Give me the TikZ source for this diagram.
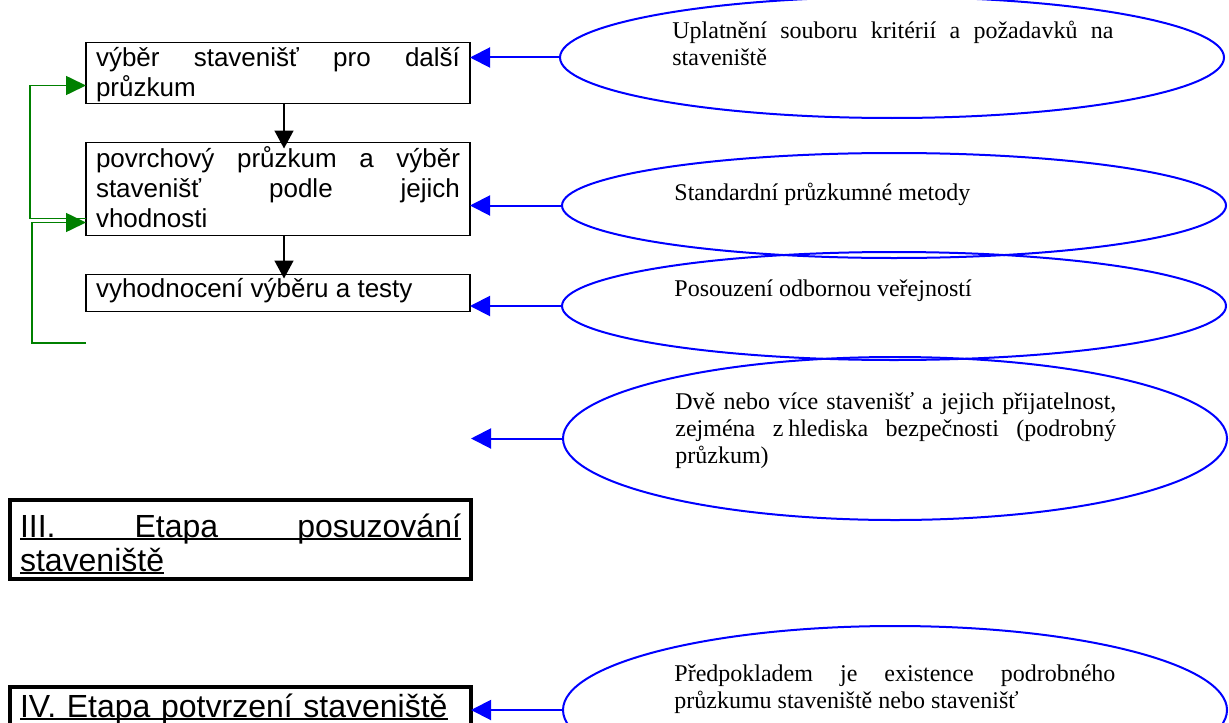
\documentclass[tikz,border=0pt]{standalone}
\usepackage{fontspec}
\setmainfont{Liberation Serif}
\newfontfamily\arialfont{Liberation Sans}
\usetikzlibrary{arrows.meta,shapes.geometric}
\hyphenpenalty=10000
\exhyphenpenalty=10000
\tolerance=10000
\definecolor{wordgreen}{RGB}{0,128,0}
\newlength\ulwd
\newcommand{\ulword}[1]{\leavevmode\settowidth{\ulwd}{#1}\rlap{\rule[-1.7pt]{\ulwd}{1.1pt}}#1}
\newcommand{\ulfull}[1]{\leavevmode\rlap{\rule[-1.7pt]{\linewidth}{1.1pt}}\hbox to \linewidth{#1}}
\tikzset{
  stepbox/.style={draw,line width=0.8pt,anchor=north west,outer sep=0pt,inner xsep=5pt,inner ysep=0pt,
    text width=182pt,align=justify,font=\arialfont\fontsize{13}{15}\selectfont},
  etapa/.style={draw,line width=2.25pt,anchor=north west,outer sep=0pt,inner xsep=5pt,inner ysep=0pt,
    text width=220.5pt,align=left,font=\arialfont\fontsize{16}{17}\selectfont},
  oval/.style={draw=blue,line width=1pt,ellipse,inner sep=0pt,outer sep=0pt,minimum width=332pt},
  ovaltext/.style={anchor=base west,inner sep=0pt,text width=220.5pt,align=justify,
    font=\fontsize{12}{13.5}\selectfont},
  downarrow/.style={line width=0.8pt,-{Triangle[length=9pt,width=9.5pt]}},
  bluearrow/.style={blue,line width=1pt,-{Triangle[length=10pt,width=10pt]}},
  greenarrow/.style={wordgreen,line width=0.8pt,-{Triangle[length=10pt,width=9.5pt]}},
}

\begin{document}
\begin{tikzpicture}[x=0.5pt,y=-0.5pt]
          \useasboundingbox (0,0) rectangle (1229,722);
          \clip (0,0) rectangle (1229,722);
          \node [stepbox,text height=12.25pt,text depth=18.25pt] (n1) at (86,42.5) {výběr stavenišť pro další\linebreak průzkum};
          \node [stepbox,text height=12.25pt,text depth=34.25pt] (n2) at (86,142.5) {povrchový průzkum a výběr\linebreak stavenišť podle jejich\linebreak vhodnosti};
          \node [stepbox,text height=11.25pt,text depth=7.25pt] (n3) at (86,274.5) {vyhodnocení výběru a testy};
          \node [etapa,text height=18.5pt,text depth=21pt] (s3) at (10,500) {\ulfull{III.\hfill Etapa\hfill posuzování}\par\ulword{staveniště}};
          \node [etapa,text height=15pt,text depth=15pt] (s4) at (10,687) {\ulword{IV. Etapa potvrzení staveniště}};
          \node [oval,minimum height=60.5pt] (e1) at (892,57.5) {};
          \node [oval,minimum height=52.5pt] (e2) at (894,205.5) {};
          \node [oval,minimum height=54pt] (e3) at (894,306) {};
          \node [oval,minimum height=81.5pt] (e4) at (895,438.5) {};
          \node [oval,minimum height=84pt] (e5) at (895,710) {};
          \node [ovaltext] (t1) at (672,39) {Uplatnění souboru kritérií a požadavků na\linebreak staveniště};
          \node [ovaltext] (t2) at (674,200) {Standardní průzkumné metody};
          \node [ovaltext] (t3) at (674,296) {Posouzení odbornou veřejností};
          \node [ovaltext] (t4) at (675,409) {Dvě nebo více stavenišť a jejich přijatelnost,\linebreak zejména z\nobreak\hspace{.2em}hlediska bezpečnosti (podrobný\linebreak průzkum)};
          \node [ovaltext] (t5) at (674,681) {Předpokladem je existence podrobného\linebreak průzkumu staveniště nebo stavenišť};
          \coordinate (g1) at (86,343);
          \draw [downarrow,shorten >=-3pt] ([xshift=3pt]n1.south)--([xshift=3pt]n2.north);
          \draw [downarrow,shorten >=-2pt] ([xshift=3pt]n2.south)--([xshift=3pt]n3.north);
          \draw [greenarrow] ([yshift=8.5pt]n2.south west) -- ++(-28pt,0) |- ([yshift=9pt]n1.south west);
          \draw [greenarrow] (g1) -- ++(-27pt,0) |- ([yshift=6.5pt]n2.south west);
          \draw [bluearrow] (e1.west)--(e1.west -| n1.east);
          \draw [bluearrow] (e2.west)--(e2.west -| n2.east);
          \draw [bluearrow] (e3.west)--(e3.west -| n3.east);
          \draw [bluearrow] (e4.west)--(e4.west -| s3.east);
          \draw [bluearrow] (e5.west)--(e5.west -| s4.east);
        \end{tikzpicture}
\end{document}
